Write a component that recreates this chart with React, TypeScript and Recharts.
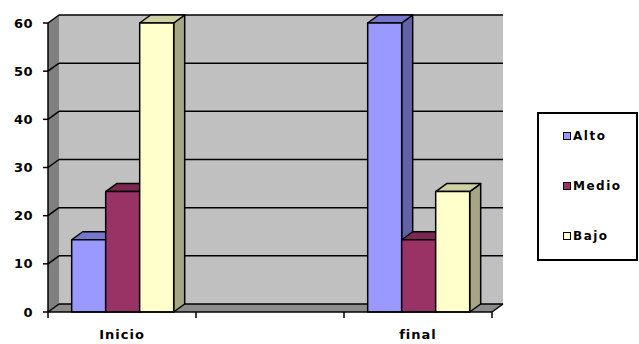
import { BarChart, Bar, XAxis, YAxis, CartesianGrid, ReferenceArea } from 'recharts';

const categories = ['Inicio', '', 'final'];
const alto = [15, null, 60];
const medio = [25, null, 15];
const bajo = [60, null, 25];
const yTicks = [0, 10, 20, 30, 40, 50, 60];

const series = [
  { key: 'Alto', values: alto, front: '#9999ff', top: '#7676cc', side: '#6262a4' },
  { key: 'Medio', values: medio, front: '#993366', top: '#7a2851', side: '#6e2449' },
  { key: 'Bajo', values: bajo, front: '#ffffcc', top: '#cfcfa6', side: '#a6a686' },
];

const data = categories.map((name, i) => {
  const row: Record<string, string | number | null> = { name };
  series.forEach(s => { row[s.key] = s.values[i]; });
  return row;
});

// depth of the fake 3D projection
const DX = 11;
const DY = 8;
const FONT = '"DejaVu Sans", Verdana, sans-serif';
const TICK_SIZE = 6;

function Box3D(props: any) {
  const { x, y, width: w, height: h, front, top, side } = props;
  if (!h || h <= 0) return null;
  return (
    <g stroke="#000" strokeWidth={1.5} strokeLinejoin="round">
      <polygon
        points={`${x + w},${y} ${x + w + DX},${y - DY} ${x + w + DX},${y + h - DY} ${x + w},${y + h}`}
        fill={side}
      />
      <polygon
        points={`${x},${y} ${x + DX},${y - DY} ${x + w + DX},${y - DY} ${x + w},${y}`}
        fill={top}
      />
      <rect x={x} y={y} width={w} height={h} fill={front} />
    </g>
  );
}

function Walls(props: any) {
  const { x, y, width, height } = props;
  const r = x + width;
  const b = y + height;
  return (
    <g>
      <polygon
        points={`${x + DX},${y - DY} ${r + DX},${y - DY} ${r + DX},${b - DY} ${x + DX},${b - DY}`}
        fill="#c0c0c0"
      />
      <polygon
        points={`${x},${y} ${x + DX},${y - DY} ${x + DX},${b - DY} ${x},${b}`}
        fill="#808080"
      />
      <polygon
        points={`${x},${b} ${x + DX},${b - DY} ${r + DX},${b - DY} ${r},${b}`}
        fill="#8c8c8c"
      />
      <line x1={r} y1={b} x2={r + DX} y2={b - DY} stroke="#000" strokeWidth={1.5} />
    </g>
  );
}

function GridLine(p: any) {
  return (
    <g key={p.key} stroke="#000" strokeWidth={1.5}>
      <line x1={p.x1} y1={p.y1} x2={p.x1 + DX} y2={p.y1 - DY} />
      <line x1={p.x1 + DX} y1={p.y1 - DY} x2={p.x2 + DX} y2={p.y2 - DY} />
    </g>
  );
}

function CategoryTick(props: any) {
  const { x, y, payload, index } = props;
  const half = payload?.offset ?? 0;
  const axisY = y - TICK_SIZE;
  return (
    <g>
      <line x1={x - half} y1={axisY} x2={x - half} y2={axisY + 6} stroke="#000" strokeWidth={1.5} />
      {index === categories.length - 1 && (
        <line x1={x + half} y1={axisY} x2={x + half} y2={axisY + 6} stroke="#000" strokeWidth={1.5} />
      )}
      <text
        x={x}
        y={axisY + 27}
        textAnchor="middle"
        fontFamily={FONT}
        fontSize={13}
        fontWeight="bold"
        letterSpacing={1}
        fill="#000"
      >
        {payload.value}
      </text>
    </g>
  );
}

export default function App() {
  return (
    <div style={{ position: 'relative', width: 639, height: 344, background: '#fff' }}>
      <style>{'body{margin:0}'}</style>
      <BarChart
        width={639}
        height={344}
        data={data}
        margin={{ top: 23, right: 147, bottom: 0, left: 0 }}
        barCategoryGap="16%"
        barGap={0}
      >
        <ReferenceArea y1={0} y2={60} shape={<Walls />} zIndex={-150} />
        <CartesianGrid vertical={false} horizontal={GridLine} />
        <XAxis
          dataKey="name"
          height={32}
          tickSize={TICK_SIZE}
          tickMargin={0}
          tickLine={false}
          axisLine={{ stroke: '#000', strokeWidth: 1.5 }}
          tick={<CategoryTick />}
          interval={0}
        />
        <YAxis
          width={48}
          domain={[0, 60]}
          ticks={yTicks}
          tickSize={5}
          tickMargin={10}
          tickLine={{ stroke: '#000', strokeWidth: 1.5 }}
          axisLine={{ stroke: '#000', strokeWidth: 1.5 }}
          tick={{ fill: '#000', fontSize: 13, fontWeight: 'bold', fontFamily: FONT, letterSpacing: 0.5 }}
        />
        {series.map(s => (
          <Bar
            key={s.key}
            dataKey={s.key}
            isAnimationActive={false}
            shape={(p: any) => <Box3D {...p} front={s.front} top={s.top} side={s.side} />}
          />
        ))}
      </BarChart>

      <div
        style={{
          position: 'absolute',
          left: 537,
          top: 112,
          width: 101,
          height: 149,
          border: '2px solid #000',
          boxSizing: 'border-box',
          background: '#fff',
        }}
      >
        {series.map((s, i) => (
          <div
            key={s.key}
            style={{
              position: 'absolute',
              left: 24,
              top: 14 + i * 50,
              display: 'flex',
              alignItems: 'center',
              fontFamily: FONT,
              fontSize: 12,
              fontWeight: 'bold',
              letterSpacing: 1.5,
              lineHeight: '16px',
            }}
          >
            <span
              style={{
                width: 6,
                height: 6,
                border: '1.5px solid #000',
                background: s.front,
                marginRight: 2,
              }}
            />
            {s.key}
          </div>
        ))}
      </div>
    </div>
  );
}
